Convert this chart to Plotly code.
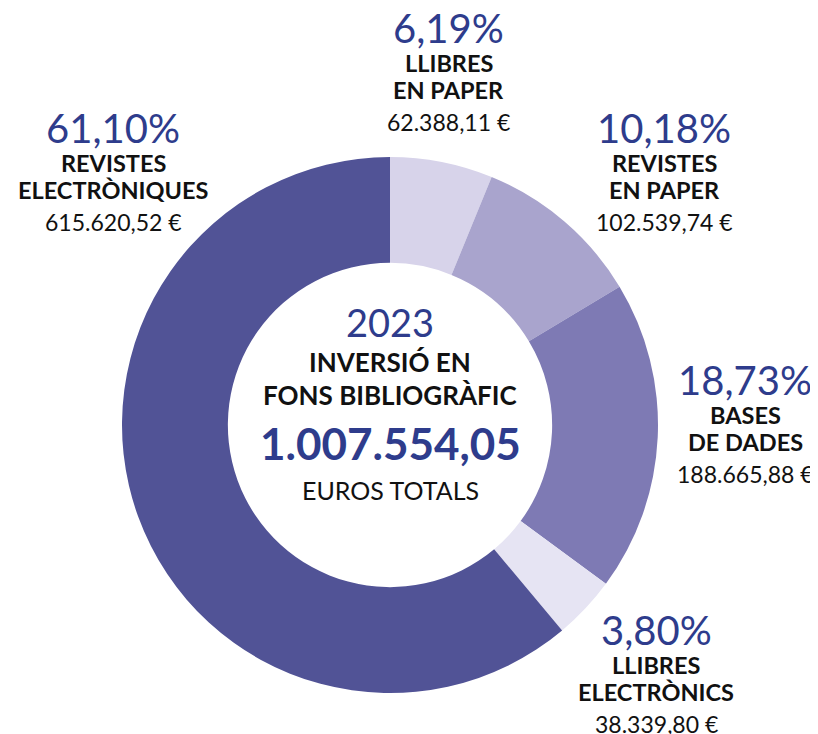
import plotly.graph_objects as go

categories = ["LLIBRES<br>EN PAPER", "REVISTES<br>EN PAPER", "BASES<br>DE DADES",
              "LLIBRES<br>ELECTRÒNICS", "REVISTES<br>ELECTRÒNIQUES"]
values = [62388.11, 102539.74, 188665.88, 38339.80, 615620.52]
pct_labels = ["6,19%", "10,18%", "18,73%", "3,80%", "61,10%"]
euro_labels = ["62.388,11 €", "102.539,74 €", "188.665,88 €", "38.339,80 €", "615.620,52 €"]
colors = ["#d7d3ea", "#a9a4cd", "#7e7ab4", "#e6e4f3", "#515396"]
year = "2023"
total_label = "1.007.554,05"

W, H = 818, 734
OFF = 8  # page body margin
FONT = "Lato"
BLUE = "#2e3c8c"
BLACK = "#111111"

def px(x):
    return (x - OFF) / W

def py(y):
    return 1 - (y - OFF) / H

CX, CY, R = 390, 425, 268
fig = go.Figure(go.Pie(
    labels=categories, values=values, sort=False, direction="clockwise",
    rotation=0, hole=0.605, textinfo="none", hoverinfo="label+value",
    marker=dict(colors=colors, line=dict(width=0)),
    domain=dict(x=[px(CX - R), px(CX + R)], y=[py(CY + R), py(CY - R)]),
    showlegend=False,
))

groups = [(449, 28), (664, 128), (745, 380), (656, 630), (113, 128)]

anns = []
def add(text, x, y, size, color, bold=False):
    anns.append(dict(text=f"<b>{text}</b>" if bold else text, x=px(x), y=py(y),
                     xref="paper", yref="paper", showarrow=False,
                     xanchor="center", yanchor="middle",
                     font=dict(family=FONT, size=size, color=color)))

for (gx, gy), cat, pct, eur in zip(groups, categories, pct_labels, euro_labels):
    l1, l2 = cat.split("<br>")
    add(pct, gx, gy, 40, BLUE)
    add(l1, gx, gy + 35, 23.5, BLACK, bold=True)
    add(l2, gx, gy + 62, 23.5, BLACK, bold=True)
    add(eur, gx, gy + 94, 23, BLACK)

add(year, 390, 322, 38, BLUE)
add("INVERSIÓ EN", 390, 362, 26, BLACK, bold=True)
add("FONS BIBLIOGRÀFIC", 390, 395, 26, BLACK, bold=True)
add(total_label, 390, 443, 44, BLUE, bold=True)
add("EUROS TOTALS", 390, 490, 25, BLACK)

fig.update_layout(width=W, height=H, margin=dict(l=0, r=0, t=0, b=0),
                  paper_bgcolor="white", plot_bgcolor="white", annotations=anns)
fig.write_html("out.html")
